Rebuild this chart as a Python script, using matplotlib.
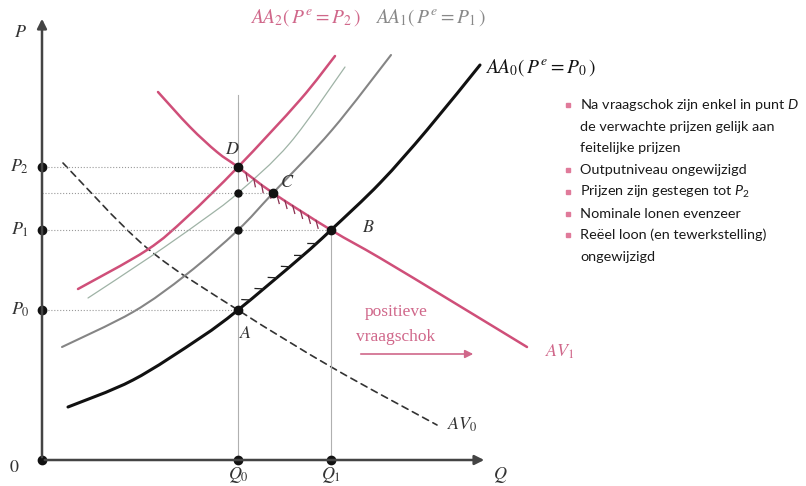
import numpy as np
import matplotlib.pyplot as plt
from matplotlib.path import Path
from matplotlib.patches import PathPatch

plt.rcParams['mathtext.fontset'] = 'stix'
plt.rcParams['mathtext.rm'] = 'Lato'
plt.rcParams['mathtext.it'] = 'Lato:italic'

PINK = '#cf4f79'
PINK_TXT = '#d0678a'

# equilibrium levels
Q0, Q1 = 19.6, 28.9
P0, P1, PC, P2 = 15.0, 23.0, 26.7, 29.3

# aanbodcurves (AA) en vraagcurves (AV): (Q, P)
aa0_q = [2.6, 9.1, 15.8, Q0, 25.8, Q1, 33.8, 38.5, 43.8]
aa0_p = [5.3, 8.0, 12.2, P0, 20.2, P1, 27.7, 33.0, 39.5]

aa1_q = [2.0, 9.1, 14.5, Q0, 23.1, 29.0, 34.9]
aa1_p = [11.3, 14.8, 18.6, P1, PC, 33.0, 40.5]

aac_q = [4.6, 10.8, 15.8, Q0, 24.8, 30.3]
aac_p = [16.2, 20.3, 23.8, PC, 31.7, 39.3]

aa2_q = [3.6, 10.5, 14.5, Q0, 25.8, 29.3]
aa2_p = [17.1, 21.0, 24.3, P2, 36.0, 40.4]

av1_q = [11.6, 14.8, 17.5, Q0, 23.1, Q1, 33.8, 41.1, 48.5]
av1_p = [36.8, 33.3, 30.8, P2, PC, P1, 20.2, 15.8, 11.3]

av0_q = [2.1, 10.5, Q0, 29.1, 39.5]
av0_p = [29.7, 21.2, P0, 9.2, 3.5]

bullets = [
    ("Na vraagschok zijn enkel in punt $\\mathit{D}$", True),
    ("de verwachte prijzen gelijk aan", False),
    ("feitelijke prijzen", False),
    ("Outputniveau ongewijzigd", True),
    ("Prijzen zijn gestegen tot $\\mathit{P}_2$", True),
    ("Nominale lonen evenzeer", True),
    ("Reëel loon (en tewerkstelling)", True),
    ("ongewijzigd", False),
]

fig = plt.figure(figsize=(8.06, 4.86), dpi=100)
ax = fig.add_axes([0, 0, 1, 1])
ax.set_xlim(-4.2, 76.4)
ax.set_ylim(-2.6, 46.0)
ax.axis('off')


def smooth(qs, ps, **kw):
    # Catmull-Rom door de punten, getekend als Bezier-pad
    pts = np.column_stack([qs, ps]).astype(float)
    ext = np.vstack([pts[0], pts, pts[-1]])
    verts = [pts[0]]
    codes = [Path.MOVETO]
    for i in range(1, len(ext) - 2):
        c1 = ext[i] + (ext[i + 1] - ext[i - 1]) / 6
        c2 = ext[i + 1] - (ext[i + 2] - ext[i]) / 6
        verts += [c1, c2, ext[i + 1]]
        codes += [Path.CURVE4] * 3
    ax.add_patch(PathPatch(Path(verts, codes), fill=False, capstyle='round', **kw))


# hulplijnen
kw = dict(color='#9a9a9a', lw=0.8)
ax.plot([0, Q0], [P2, P2], ls=':', **kw)
ax.plot([0, 23.1], [PC, PC], ls=':', **kw)
ax.plot([0, Q1], [P1, P1], ls=':', **kw)
ax.plot([0, Q0], [P0, P0], ls=':', **kw)
ax.plot([Q0, Q0], [0, 36.5], color='#b0b0b0', lw=0.8)
ax.plot([Q1, Q1], [0, P1], color='#b0b0b0', lw=0.8)

# assen
ax.annotate('', xy=(0, 44.4), xytext=(0, 0),
            arrowprops=dict(arrowstyle='-|>', color='#444', lw=1.8, mutation_scale=14))
ax.annotate('', xy=(44.5, 0), xytext=(0, 0),
            arrowprops=dict(arrowstyle='-|>', color='#444', lw=1.8, mutation_scale=14))

# curves
smooth(av0_q, av0_p, edgecolor='#333', lw=1.2, ls=(0, (4, 3)))
smooth(aa0_q, aa0_p, edgecolor='#111', lw=2.2)
smooth(aa1_q, aa1_p, edgecolor='#858585', lw=1.5)
smooth(aac_q, aac_p, edgecolor='#9fb3a6', lw=0.9)
smooth(aa2_q, aa2_p, edgecolor=PINK, lw=1.8)
smooth(av1_q, av1_p, edgecolor=PINK, lw=1.8)


def barbs(qs, ps, q_from, q_to, n, color, side=1):
    order = np.argsort(qs)
    qs = np.asarray(qs)[order]
    ps = np.asarray(ps)[order]
    for q in np.linspace(q_from, q_to, n):
        p = np.interp(q, qs, ps)
        d = np.array([0.3, np.interp(q + 0.3, qs, ps) - p])
        if q_to < q_from:
            d = -d
        d /= np.hypot(*d)
        nrm = np.array([-d[1], d[0]]) * side
        tail = np.array([q, p]) - d * 0.6 + nrm * 0.55
        ax.plot([tail[0], q], [tail[1], p], color=color, lw=0.9)


barbs(aa0_q, aa0_p, Q0 + 1.2, Q1 - 1.5, 6, '#222')
barbs(av1_q, av1_p, Q1 - 1.5, Q0 + 0.8, 10, '#8a3050')

# punten
ax.plot([Q0, Q1, 23.1, Q0], [P0, P1, PC, P2], 'o', color='#111', ms=6)
ax.plot([Q0, Q0], [P1, PC], 'o', color='#111', ms=5)
ax.plot([0, 0, 0, 0, Q0, Q1], [0, P0, P1, P2, 0, 0], 'o', color='#111', ms=6, clip_on=False)

# labels
serif = dict(fontsize=13, color='#333')
ax.text(-2.2, 42.8, '$P$', ha='center', va='center', **serif)
ax.text(-2.8, -0.7, '$0$', ha='center', va='center', **serif)
ax.text(-2.2, P2, '$P_2$', ha='center', va='center', **serif)
ax.text(-2.2, P1, '$P_1$', ha='center', va='center', **serif)
ax.text(-2.2, P0, '$P_0$', ha='center', va='center', **serif)
ax.text(Q0, -1.5, '$Q_0$', ha='center', va='center', **serif)
ax.text(Q1, -1.5, '$Q_1$', ha='center', va='center', **serif)
ax.text(45.8, -1.5, '$Q$', ha='center', va='center', **serif)
ax.text(19.0, 31.1, '$D$', ha='center', va='center', **serif)
ax.text(24.5, 27.8, '$C$', ha='center', va='center', **serif)
ax.text(32.6, 23.3, '$B$', ha='center', va='center', **serif)
ax.text(20.4, 12.7, '$A$', ha='center', va='center', **serif)

ax.text(20.8, 44.2, r'$AA_2\left(\,P^e = P_2\,\right)$', fontsize=14, color=PINK_TXT, va='center')
ax.text(33.3, 44.2, r'$AA_1\left(\,P^e = P_1\,\right)$', fontsize=14, color='#888', va='center')
ax.text(44.3, 39.2, r'$AA_0\left(\,P^e = P_0\,\right)$', fontsize=14, color='#111', va='center')
ax.text(50.3, 10.8, '$AV_1$', fontsize=13, color=PINK_TXT, va='center')
ax.text(40.5, 3.5, '$AV_0$', fontsize=13, color='#333', va='center')

ax.text(35.4, 14.8, 'positieve', family='Liberation Serif', fontsize=12.5,
        color=PINK_TXT, ha='center', va='center')
ax.text(35.4, 12.3, 'vraagschok', family='Liberation Serif', fontsize=12.5,
        color=PINK_TXT, ha='center', va='center')
ax.annotate('', xy=(43.4, 10.6), xytext=(31.6, 10.6),
            arrowprops=dict(arrowstyle='-|>', color=PINK_TXT, lw=1.2, mutation_scale=12))

# toelichting
y = 35.5
for line, has_bullet in bullets:
    if has_bullet:
        ax.plot(52.6, y, 's', color='#e07a9a', ms=3.5)
    ax.text(53.8, y, line, family='Lato', fontsize=10.4, color='#1a1a1a', va='center',
            math_fontfamily='custom')
    y -= 2.17

fig.savefig('out.png', dpi=100)
